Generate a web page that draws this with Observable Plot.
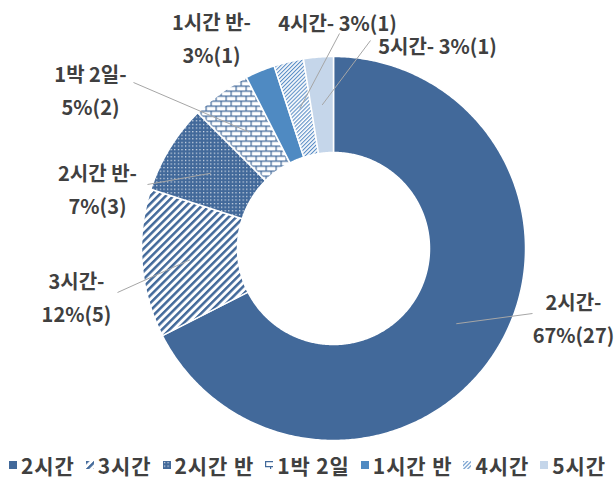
<!DOCTYPE html>
<html><head><meta charset="utf-8">
<script src="https://cdn.jsdelivr.net/npm/d3@7"></script>
<script src="https://cdn.jsdelivr.net/npm/@observablehq/plot@0.6"></script>
<style>
body{margin:0;background:#fff;font-family:"Noto Sans CJK KR","Noto Sans",sans-serif;}
#legend{display:flex;justify-content:center;align-items:center;gap:11px;height:40px;font-size:21px;letter-spacing:0.9px;font-weight:bold;color:#404040;width:615px;}
.item{display:flex;align-items:center;gap:4px;white-space:nowrap}
.item svg{display:block}
</style></head><body><div id="chart"></div><div id="legend"></div>
<script>
// ---- data ----
const categories = ["2시간", "3시간", "2시간 반", "1박 2일", "1시간 반", "4시간", "5시간"];
const counts = [27, 5, 3, 2, 1, 1, 1];
const percents = [67, 12, 7, 5, 3, 3, 3];
const fills = ["#42699A", "url(#p-wide)", "url(#p-dot)", "url(#p-brick)", "#4F8AC2", "url(#p-narrow)", "#C5D6EA"];

// ---- label layout (pixel offsets from the donut centre, y up) ----
const labelOffsets = [[240, -67], [-257, -46], [-236, 62], [-243, 161], [-122, 213], [4, 228], [104, 205]];
const leaderEnds = [[199, -65], [-216, -44], [-186, 64], [-200, 166], null, [6, 215], [37, 208]];
const singleLine = [false, false, false, false, false, true, true];

const W = 615, H = 445, CX = 333, CY = 248, R0 = 96, R1 = 192, RM = 144;
const rows = categories.map((c, i) => ({key: c, count: counts[i], pct: percents[i], fill: fills[i], i}));
const arcs = d3.pie().sort(null).value(d => d.count)(rows);

const pts = [];
for (const a of arcs) {
  const n = Math.max(2, Math.ceil((a.endAngle - a.startAngle) / 0.01));
  for (let k = 0; k <= n; k++) {
    const t = a.startAngle + (a.endAngle - a.startAngle) * k / n;
    pts.push({key: a.data.key, fill: a.data.fill, x: R1 * Math.sin(t), y: R1 * Math.cos(t)});
  }
  for (let k = n; k >= 0; k--) {
    const t = a.startAngle + (a.endAngle - a.startAngle) * k / n;
    pts.push({key: a.data.key, fill: a.data.fill, x: R0 * Math.sin(t), y: R0 * Math.cos(t)});
  }
}

const labels = arcs.map(a => {
  const d = a.data, o = labelOffsets[d.i];
  const text = singleLine[d.i] ? `${d.key}- ${d.pct}%(${d.count})` : `${d.key}-\n${d.pct}%(${d.count})`;
  return {x: o[0], y: o[1], text};
});
const leaders = arcs.filter(a => leaderEnds[a.data.i]).map(a => {
  const m = (a.startAngle + a.endAngle) / 2, e = leaderEnds[a.data.i];
  return {x1: RM * Math.sin(m), y1: RM * Math.cos(m), x2: e[0], y2: e[1]};
});

const svg = Plot.plot({
  width: W, height: H, margin: 0,
  x: {domain: [-CX, W - CX], range: [0, W], axis: null},
  y: {domain: [-(H - CY), CY], range: [H, 0], axis: null},
  color: {type: "identity"},
  style: {fontFamily: '"Noto Sans CJK KR", sans-serif', background: "white"},
  marks: [
    Plot.line(pts, {x: "x", y: "y", z: "key", fill: "fill", stroke: "white", strokeWidth: 1.5, curve: "linear-closed"}),
    Plot.link(leaders, {x1: "x1", y1: "y1", x2: "x2", y2: "y2", stroke: "#A6A6A6", strokeWidth: 1}),
    Plot.text(labels, {x: "x", y: "y", text: "text", fontSize: 20, fontWeight: "bold", fill: "#404040", lineHeight: 1.65})
  ]
});

const defs = document.createElementNS("http://www.w3.org/2000/svg", "defs");
defs.innerHTML = `
<pattern id="p-wide" patternUnits="userSpaceOnUse" width="5.4" height="5.4" patternTransform="rotate(45)">
  <rect width="5.4" height="5.4" fill="#fff"/><rect width="2.5" height="5.4" fill="#42699A"/></pattern>
<pattern id="p-narrow" patternUnits="userSpaceOnUse" width="2.8" height="2.8" patternTransform="rotate(45)">
  <rect width="2.8" height="2.8" fill="#fff"/><rect width="1.1" height="2.8" fill="#5B8EC6"/></pattern>
<pattern id="p-dot" patternUnits="userSpaceOnUse" width="3.6" height="3.6">
  <rect width="3.6" height="3.6" fill="#42699A"/><rect x="1" y="1" width="1.1" height="1.1" fill="#fff"/></pattern>
<pattern id="p-brick" patternUnits="userSpaceOnUse" width="10" height="10">
  <rect width="10" height="10" fill="#fff"/>
  <path d="M0 0.6H10M0 5.6H10M0.6 0V5.6M5.6 5.6V10" stroke="#42699A" stroke-width="1.2" fill="none"/></pattern>`;
svg.insertBefore(defs, svg.firstChild);
document.getElementById("chart").appendChild(svg);

const legend = document.getElementById("legend");
rows.forEach(d => {
  const item = document.createElement("div");
  item.className = "item";
  item.innerHTML = `<svg width="8" height="8"><rect width="8" height="8" fill="${d.fill}"/></svg><span>${d.key}</span>`;
  legend.appendChild(item);
});
</script>
</body></html>
